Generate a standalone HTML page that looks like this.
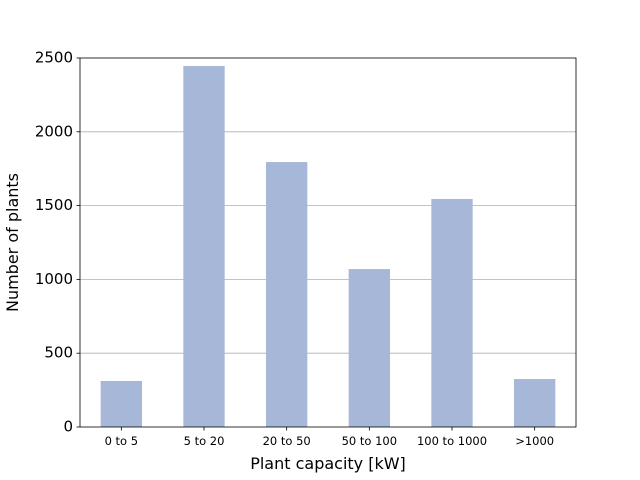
<!DOCTYPE html>
<html><head><meta charset="utf-8"><style>
body{margin:0;background:#fff;}
svg{display:block;font-family:"DejaVu Sans","Liberation Sans",sans-serif;}
</style></head><body>
<svg id="chart" width="640" height="480"></svg>
<script>
const categories=["0 to 5","5 to 20","20 to 50","50 to 100","100 to 1000",">1000"];
const counts=[312,2446,1795,1070,1545,325];
const yTicks=[0,500,1000,1500,2000,2500];
const L=80,R=576,T=58,B=427,yMax=2500;
const svg=document.getElementById('chart');
const NS='http://www.w3.org/2000/svg';
function y(v){return B-(v/yMax)*(B-T);}
const step=(R-L)/categories.length;
function xc(i){return L+step*(i+0.5);}
function mk(tag,attrs,parent){const e=document.createElementNS(NS,tag);for(const k in attrs)e.setAttribute(k,attrs[k]);(parent||svg).appendChild(e);return e;}
yTicks.forEach(t=>{
  if(t>0&&t<yMax){const g=mk('line',{x1:L,x2:R,y1:y(t),y2:y(t),stroke:'#b0b0b0','stroke-width':0.8});
  
  }
  const tk=mk('line',{x1:L-3.5,x2:L,y1:y(t),y2:y(t),stroke:'#000','stroke-width':0.8});
  
  
  const lb=mk('text',{x:L-7,y:y(t)+4.5,'text-anchor':'end','font-size':'15'});
  lb.textContent=t;
  
  
});
categories.forEach((c,i)=>{
  const w=step*0.5;
  const b=mk('rect',{x:xc(i)-w/2,y:y(counts[i]),width:w,height:B-y(counts[i]),fill:'#a6b7d7'});
  
  
  const tk=mk('line',{x1:xc(i),x2:xc(i),y1:B,y2:B+3.5,stroke:'#000','stroke-width':0.8});
  
  
  const lb=mk('text',{x:xc(i),y:B+18,'text-anchor':'middle','font-size':'11.5'});
  lb.textContent=c;
  
  
});
const fr=mk('rect',{x:L,y:T,width:R-L,height:B-T,fill:'none',stroke:'#000','stroke-width':0.8});


const xl=mk('text',{x:(L+R)/2,y:469,'text-anchor':'middle','font-size':'16'});
xl.textContent='Plant capacity [kW]';


const yl=mk('text',{x:0,y:0,'text-anchor':'middle','font-size':'16',transform:'translate(18,'+((T+B)/2)+') rotate(-90)'});
yl.textContent='Number of plants';


</script>
</body></html>
